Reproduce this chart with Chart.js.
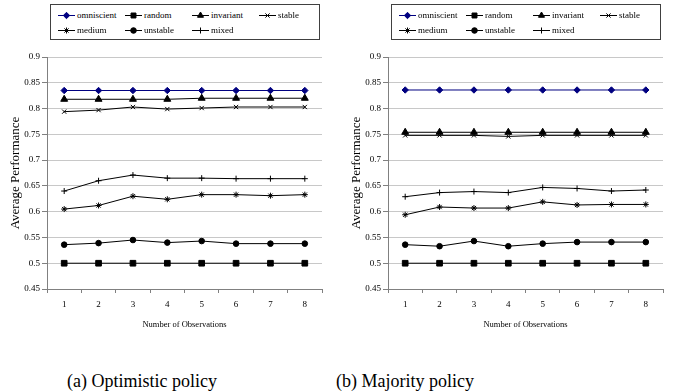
<!DOCTYPE html>
<html><head><meta charset="utf-8">
<script src="https://cdn.jsdelivr.net/npm/chart.js@4/dist/chart.umd.min.js"></script>
<style>
html,body{margin:0;padding:0;background:#fff;}
#root{position:relative;width:679px;height:392px;overflow:hidden;font-family:"Liberation Serif",serif;}
.panel{position:absolute;top:0;width:339px;height:392px;}
.panel canvas.chart{position:absolute;left:0;top:45px;}
.legend{position:absolute;left:50px;top:4px;width:268px;height:34px;border:1px solid #404040;background:#fff;}
.item{position:absolute;height:12px;display:flex;align-items:center;font-size:9px;color:#000;white-space:nowrap;}
.item canvas{margin-right:2px;}
.caption{position:absolute;top:370px;font-size:18px;line-height:22px;white-space:nowrap;transform:translateX(-50%);color:#000;}
</style></head>
<body>
<div id="root">
  <div class="panel" id="panelA" style="left:0px;"><div class="legend" id="legA"></div><canvas class="chart" id="chartA" width="339" height="300"></canvas></div>
  <div class="panel" id="panelB" style="left:341px;"><div class="legend" id="legB"></div><canvas class="chart" id="chartB" width="339" height="300"></canvas></div>
  <div class="caption" id="capA" style="left:142px;"></div>
  <div class="caption" id="capB" style="left:405px;"></div>
</div>
<script>
// ---- data ----
const categories = ['1','2','3','4','5','6','7','8'];
const seriesNames = ['omniscient','random','invariant','stable','medium','unstable','mixed'];

const optOmniscient = [0.835,0.835,0.835,0.835,0.835,0.835,0.835,0.835];
const optRandom     = [0.5,0.5,0.5,0.5,0.5,0.5,0.5,0.5];
const optInvariant  = [0.818,0.818,0.818,0.818,0.82,0.82,0.82,0.82];
const optStable     = [0.794,0.797,0.803,0.799,0.801,0.803,0.803,0.803];
const optMedium     = [0.605,0.612,0.630,0.624,0.633,0.633,0.631,0.633];
const optUnstable   = [0.536,0.539,0.545,0.540,0.543,0.538,0.538,0.538];
const optMixed      = [0.640,0.660,0.671,0.665,0.665,0.664,0.664,0.664];

const majOmniscient = [0.836,0.836,0.836,0.836,0.836,0.836,0.836,0.836];
const majRandom     = [0.5,0.5,0.5,0.5,0.5,0.5,0.5,0.5];
const majInvariant  = [0.754,0.754,0.754,0.754,0.754,0.754,0.754,0.754];
const majStable     = [0.748,0.748,0.748,0.746,0.748,0.748,0.748,0.748];
const majMedium     = [0.594,0.609,0.607,0.607,0.619,0.613,0.614,0.614];
const majUnstable   = [0.536,0.533,0.543,0.533,0.538,0.541,0.541,0.541];
const majMixed      = [0.629,0.637,0.639,0.637,0.647,0.645,0.640,0.642];

const yMin = 0.45, yMax = 0.9, yStep = 0.05;
const xTitle = 'Number of Observations';
const yTitle = 'Average Performance';
const captions = ['(a) Optimistic policy', '(b) Majority policy'];

// ---- styles ----
const seriesStyles = [
  {color:'#000080', fill:'#000080', pointStyle:'rectRot', radius:3.2},
  {color:'#000000', fill:'#000000', pointStyle:'rect', radius:4},
  {color:'#000000', fill:'#000000', pointStyle:'triangle', radius:4},
  {color:'#000000', fill:'#000000', pointStyle:'crossRot', radius:3},
  {color:'#000000', fill:'#000000', pointStyle:'star', radius:3},
  {color:'#000000', fill:'#000000', pointStyle:'circle', radius:2.8},
  {color:'#000000', fill:'#000000', pointStyle:'cross', radius:3}
];
const FONT = '"Liberation Serif", serif';

function makeDatasets(arrays){
  return arrays.map((vals,i)=>({
    label: seriesNames[i],
    data: vals,
    borderColor: seriesStyles[i].color,
    backgroundColor: seriesStyles[i].fill,
    borderWidth: 1,
    pointStyle: seriesStyles[i].pointStyle,
    pointRadius: seriesStyles[i].radius,
    pointBorderWidth: 1,
    pointBorderColor: seriesStyles[i].color,
    pointBackgroundColor: seriesStyles[i].fill,
    tension: 0,
    fill: false
  }));
}

function makeChart(canvasId, arrays){
  return new Chart(document.getElementById(canvasId), {
    type: 'line',
    data: { labels: categories, datasets: makeDatasets(arrays) },
    options: {
      responsive: false,
      animation: false,
      devicePixelRatio: 1,
      layout: { padding: { left: 0, right: 17, top: 12, bottom: 0 } },
      plugins: { legend: { display: false }, tooltip: { enabled: false } },
      scales: {
        x: {
          type: 'category',
          offset: true,
          afterFit: s => { s.height = 56; },
          grid: { offset: true, drawOnChartArea: false, drawTicks: true, tickLength: 4, tickColor: '#808080' },
          border: { color: '#808080', width: 1 },
          ticks: { font: { family: FONT, size: 9 }, color: '#000', padding: 6, maxRotation: 0 },
          title: { display: true, text: xTitle, font: { family: FONT, size: 8.5 }, color: '#000', padding: { top: 0, bottom: 15 } }
        },
        y: {
          min: yMin, max: yMax,
          afterFit: s => { s.width = 47; },
          ticks: { stepSize: yStep, font: { family: FONT, size: 9 }, color: '#000', padding: 2,
                   callback: v => String(Math.round(v*100)/100) },
          grid: { color: '#c8c8c8', lineWidth: 1, tickLength: 5, tickColor: '#808080' },
          border: { color: '#808080', width: 1 },
          title: { display: true, text: yTitle, font: { family: FONT, size: 13 }, color: '#000', padding: { top: 8, bottom: 0 } }
        }
      }
    }
  });
}

function buildLegend(divId, chart){
  const box = document.getElementById(divId);
  chart.data.datasets.forEach((ds,i)=>{
    const col = i % 4, row = Math.floor(i / 4);
    const item = document.createElement('div');
    item.className = 'item';
    item.style.left = (7 + col*67) + 'px';
    item.style.top = (4 + row*15) + 'px';
    const c = document.createElement('canvas');
    c.width = 17; c.height = 10;
    const ctx = c.getContext('2d');
    ctx.strokeStyle = ds.borderColor; ctx.lineWidth = 1;
    ctx.beginPath(); ctx.moveTo(0,5.5); ctx.lineTo(17,5.5); ctx.stroke();
    ctx.fillStyle = ds.pointBackgroundColor; ctx.strokeStyle = ds.pointBorderColor;
    if (Chart.helpers && Chart.helpers.drawPoint) {
      Chart.helpers.drawPoint(ctx, {pointStyle: ds.pointStyle, radius: Math.min(ds.pointRadius,3.5), rotation: 0, borderWidth: 1}, 8.5, 5.5);
    }
    const t = document.createElement('span');
    t.textContent = ds.label;
    item.appendChild(c); item.appendChild(t);
    box.appendChild(item);
  });
}

const chartA = makeChart('chartA', [optOmniscient, optRandom, optInvariant, optStable, optMedium, optUnstable, optMixed]);
const chartB = makeChart('chartB', [majOmniscient, majRandom, majInvariant, majStable, majMedium, majUnstable, majMixed]);
buildLegend('legA', chartA);
buildLegend('legB', chartB);
document.getElementById('capA').textContent = captions[0];
document.getElementById('capB').textContent = captions[1];
</script>
</body></html>
